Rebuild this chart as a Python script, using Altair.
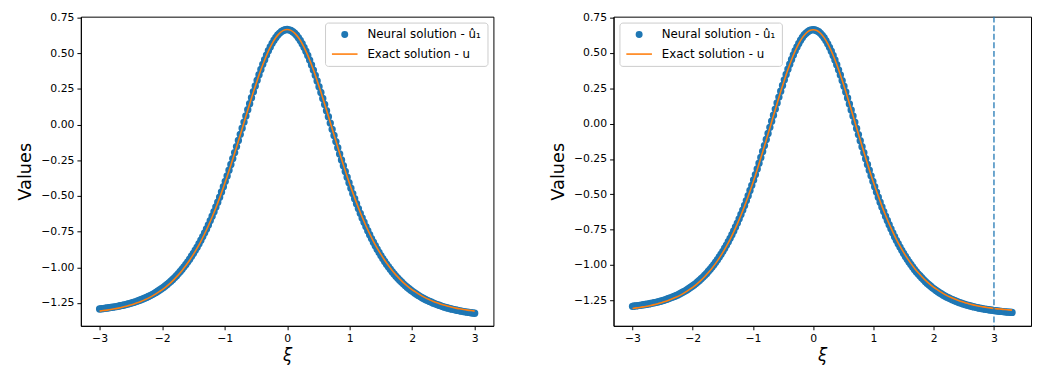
import altair as alt
import numpy as np
import pandas as pd

# ---- data ----
series_labels = ["Neural solution - û₁", "Exact solution - u"]
series_colors = ["#1f77b4", "#ff7f0e"]

x_neural = np.round(np.linspace(-3.0, 3.3, 211), 2)
y_neural = [
    -1.292, -1.290, -1.289, -1.287, -1.285, -1.283, -1.281, -1.279, -1.277, -1.275,
    -1.272, -1.269, -1.267, -1.264, -1.261, -1.257, -1.254, -1.250, -1.246, -1.242,
    -1.237, -1.232, -1.227, -1.222, -1.217, -1.211, -1.204, -1.198, -1.191, -1.184,
    -1.176, -1.168, -1.159, -1.150, -1.141, -1.131, -1.120, -1.109, -1.097, -1.085,
    -1.072, -1.059, -1.044, -1.029, -1.014, -0.997, -0.980, -0.962, -0.943, -0.923,
    -0.903, -0.881, -0.859, -0.835, -0.811, -0.785, -0.759, -0.731, -0.703, -0.673,
    -0.642, -0.611, -0.578, -0.544, -0.509, -0.473, -0.436, -0.398, -0.360, -0.320,
    -0.280, -0.239, -0.197, -0.155, -0.112, -0.069, -0.026, 0.017, 0.060, 0.103,
    0.146, 0.188, 0.230, 0.270, 0.310, 0.348, 0.385, 0.421, 0.454, 0.486,
    0.516, 0.543, 0.568, 0.590, 0.610, 0.627, 0.640, 0.651, 0.659, 0.664,
    0.665,
    0.663, 0.658, 0.650, 0.639, 0.625, 0.608, 0.588, 0.565, 0.540, 0.513,
    0.483, 0.451, 0.417, 0.381, 0.344, 0.305, 0.265, 0.224, 0.182, 0.140,
    0.097, 0.054, 0.010, -0.034, -0.077, -0.120, -0.163, -0.206, -0.248, -0.289,
    -0.329, -0.369, -0.408, -0.446, -0.484, -0.520, -0.555, -0.589, -0.622, -0.654,
    -0.685, -0.715, -0.744, -0.772, -0.799, -0.825, -0.849, -0.873, -0.896, -0.918,
    -0.939, -0.959, -0.978, -0.996, -1.014, -1.031, -1.047, -1.062, -1.076, -1.090,
    -1.103, -1.116, -1.128, -1.139, -1.150, -1.161, -1.170, -1.180, -1.189, -1.197,
    -1.205, -1.213, -1.220, -1.227, -1.233, -1.239, -1.245, -1.251, -1.256, -1.261,
    -1.266, -1.270, -1.275, -1.279, -1.283, -1.286, -1.290, -1.293, -1.296, -1.299,
    -1.302, -1.305, -1.307, -1.310, -1.312, -1.314, -1.316, -1.318, -1.320, -1.322,
    -1.323, -1.325, -1.327, -1.328, -1.329, -1.331, -1.332, -1.333, -1.334, -1.335,
]

x_exact = np.round(np.linspace(-3.0, 3.3, 106), 2)
y_exact = [
    -1.307, -1.303, -1.300, -1.296, -1.291, -1.286, -1.280, -1.273, -1.266, -1.258,
    -1.249, -1.239, -1.228, -1.216, -1.202, -1.186, -1.169, -1.151, -1.130, -1.107,
    -1.081, -1.053, -1.022, -0.988, -0.951, -0.910, -0.866, -0.818, -0.765, -0.709,
    -0.648, -0.583, -0.514, -0.441, -0.365, -0.284, -0.201, -0.116, -0.030, 0.057,
    0.143, 0.227, 0.307, 0.383, 0.452, 0.514, 0.567, 0.609, 0.640, 0.659,
    0.665,
    0.659, 0.640, 0.609, 0.567, 0.514, 0.452, 0.383, 0.307, 0.227, 0.143,
    0.057, -0.030, -0.116, -0.201, -0.284, -0.365, -0.441, -0.514, -0.583, -0.648,
    -0.709, -0.765, -0.818, -0.866, -0.910, -0.951, -0.988, -1.022, -1.053, -1.081,
    -1.107, -1.130, -1.151, -1.169, -1.186, -1.202, -1.216, -1.228, -1.239, -1.249,
    -1.258, -1.266, -1.273, -1.280, -1.286, -1.291, -1.296, -1.300, -1.303, -1.307,
    -1.310, -1.312, -1.315, -1.317, -1.319,
]

x_ticks = [-3, -2, -1, 0, 1, 2, 3]
y_ticks = [0.75, 0.5, 0.25, 0.0, -0.25, -0.5, -0.75, -1.0, -1.25]
cut_x = [3.0]

neural_df = pd.DataFrame({"x": x_neural, "y": y_neural, "series": series_labels[0]})
exact_df = pd.DataFrame({"x": x_exact, "y": y_exact})
cut_df = pd.DataFrame({"x": cut_x})

FONT = "DejaVu Sans"


def panel(xmax, xdomain, ydomain, orient, width, height, with_cut):
    nd = neural_df[neural_df.x <= xmax + 1e-9]
    ed = exact_df[exact_df.x <= xmax + 1e-9]
    xs = alt.Scale(domain=xdomain, nice=False, zero=False)
    ys = alt.Scale(domain=ydomain, nice=False, zero=False)
    xax = alt.Axis(values=x_ticks, tickCount=20, format="d", title="ξ", titleFontStyle="italic",
                   titleFontSize=17, titlePadding=4, labelOverlap=False)
    yax = alt.Axis(values=y_ticks, tickCount=20, format=".2f", title="Values", labelOverlap=False,
                   titlePadding=6)
    leg = alt.Legend(
        orient=orient, offset=6, title=None, labelFont=FONT, labelFontSize=12,
        labelColor="black", fillColor="white", strokeColor="#cccccc",
        cornerRadius=3, padding=6, rowPadding=-4, labelOffset=9,
        symbolStrokeWidth=1.6,
    )
    pts = alt.Chart(nd).mark_point(filled=True, opacity=1).encode(
        x=alt.X("x:Q", scale=xs, axis=xax),
        y=alt.Y("y:Q", scale=ys, axis=yax),
        color=alt.Color("series:N", scale=alt.Scale(domain=series_labels, range=series_colors), legend=leg),
        stroke=alt.Stroke("series:N", scale=alt.Scale(domain=series_labels, range=series_colors), legend=leg),
        shape=alt.Shape("series:N", scale=alt.Scale(domain=series_labels, range=["circle", "stroke"]), legend=leg),
        size=alt.Size("series:N", scale=alt.Scale(domain=series_labels, range=[30, 676]), legend=leg),
    )
    line = alt.Chart(ed).mark_line(color=series_colors[1], strokeWidth=1.6, interpolate="monotone").encode(
        x=alt.X("x:Q", scale=xs),
        y=alt.Y("y:Q", scale=ys),
    )
    layers = [pts, line]
    if with_cut:
        rule = alt.Chart(cut_df).mark_rule(color=series_colors[0], strokeWidth=1.3, strokeDash=[6, 2.7]).encode(
            x=alt.X("x:Q", scale=xs)
        )
        layers.append(rule)
    return alt.layer(*layers).properties(width=width, height=height)


left = panel(3.0, [-3.3, 3.3], [-1.41, 0.755], "top-right", 419, 314, False)
right = panel(3.3, [-3.315, 3.615], [-1.43, 0.757], "top-left", 424, 314, True)

chart = (
    alt.hconcat(left, right, spacing=55)
    .resolve_scale(x="independent", y="independent", color="independent",
                   stroke="independent", shape="independent", size="independent")
    .resolve_legend(color="independent", stroke="independent", shape="independent", size="independent")
    .properties(padding={"left": 8, "top": 0, "right": 0, "bottom": 0})
    .configure_view(stroke="black", strokeWidth=1)
    .configure_axis(
        grid=False, domainColor="black", domainWidth=1, tickColor="black", tickSize=4,
        tickWidth=1, labelFont=FONT, labelFontSize=11, labelColor="black", labelPadding=3,
        titleFont=FONT, titleFontSize=18, titleFontWeight="normal", titleColor="black",
    )
)

chart.save("out.html", embed_options={"renderer": "svg", "actions": False})
